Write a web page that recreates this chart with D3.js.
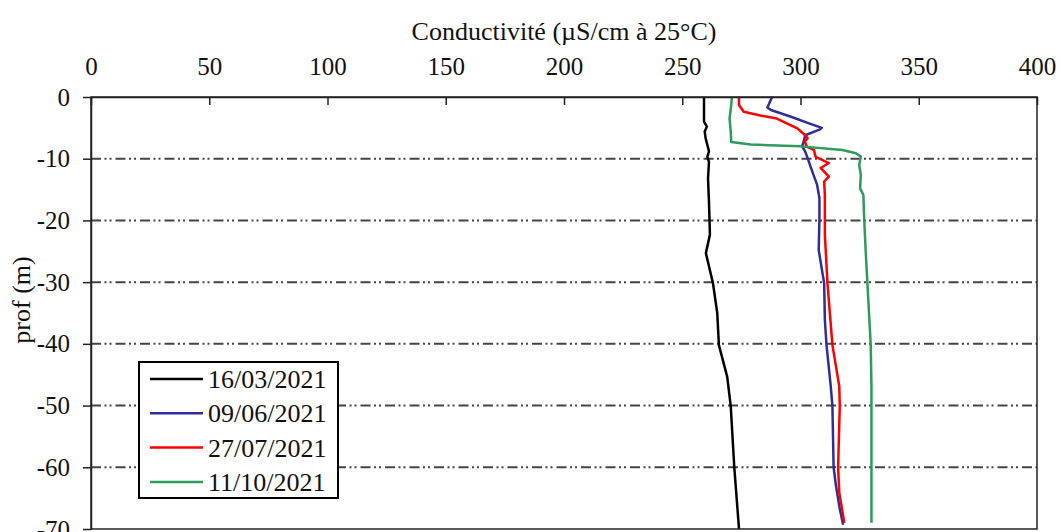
<!DOCTYPE html>
<html>
<head>
<meta charset="utf-8">
<script src="https://cdn.jsdelivr.net/npm/d3@7"></script>
<style>
  html, body { margin: 0; padding: 0; background: #fff; }
  svg { display: block; }
  text { font-family: "Liberation Serif", "Times New Roman", serif; fill: #111; }
</style>
</head>
<body>
<svg id="chart" width="1061" height="532"></svg>
<script>
// Conductivity profiles (µS/cm at 25°C) versus depth (m)
const xTicks = [0, 50, 100, 150, 200, 250, 300, 350, 400];
const yTicks = [0, -10, -20, -30, -40, -50, -60, -70];
const gridDepths = [-10, -20, -30, -40, -50, -60];

const dates = ["16/03/2021", "09/06/2021", "27/07/2021", "11/10/2021"];
const colors = ["#000000", "#2e2e9a", "#ff0000", "#2e9a5c"];

const depth1 = [0, -4, -4.8, -5.6, -6.7, -8.8, -9.7, -10.5, -13.2, -17, -22.3, -25.3, -30.2, -35, -40.2, -45.3, -50.1, -60, -70];
const cond1  = [259.2, 259.2, 260.4, 259.5, 259.9, 261.3, 260.6, 261.3, 260.9, 261.3, 261.7, 260, 263, 264.8, 265.5, 269, 270.5, 272, 274];

const depth2 = [0, -1.7, -2.1, -3.2, -4.2, -5, -5.3, -6.2, -7, -8, -8.85, -9.9, -12.1, -14.2, -16.4, -19.9, -24.8, -30.2, -36.1, -40.2, -46.9, -50.1, -60, -63, -66.3, -69.3];
const cond2  = [288, 286, 287.5, 296, 303, 309, 308, 302, 301.5, 300.7, 302, 303, 305, 307, 308, 308, 307.7, 310, 310.3, 311, 312.8, 313.5, 314, 315, 316.4, 318];

const depth3 = [0, -1.3, -2.4, -3, -3.5, -4.3, -5.1, -6.2, -6.7, -7.2, -8, -8.6, -9.7, -10.7, -11.5, -12.9, -13.7, -15.9, -22.3, -30.2, -40.2, -46.9, -50.1, -60, -64.1, -69];
const cond3  = [274, 274, 276, 283, 290, 294.4, 298.7, 302, 303, 301.8, 302.6, 305.7, 306.4, 312, 308.5, 312, 310, 310.3, 310.3, 311.4, 313.5, 316.4, 316.6, 315.9, 316.4, 318.5];

const depth4 = [0, -1.3, -3.5, -5.6, -7.3, -7.7, -8, -8.6, -9.1, -9.65, -11, -12.6, -14.8, -15.9, -19.6, -25.3, -30.2, -40.2, -46.9, -60, -69];
const cond4  = [271, 270.7, 270, 270.5, 270.7, 279, 300, 317.7, 323.4, 325.5, 324.8, 325.5, 325.2, 326.6, 326.9, 327.6, 328.3, 329.7, 330, 330, 330];

const depths = [depth1, depth2, depth3, depth4];
const conds = [cond1, cond2, cond3, cond4];

const svg = d3.select("#chart");
const plotLeft = 91, plotRight = 1037, plotTop = 97, plotBottom = 529;

const x = d3.scaleLinear().domain([0, 400]).range([plotLeft, plotRight]);
const y = d3.scaleLinear().domain([0, -70]).range([plotTop, plotBottom]);

// dash-dot-dot horizontal gridlines
svg.append("g")
  .selectAll("line")
  .data(gridDepths)
  .join("line")
  .attr("x1", plotLeft).attr("x2", plotRight)
  .attr("y1", d => y(d)).attr("y2", d => y(d))
  .attr("stroke", "#444")
  .attr("stroke-width", 2)
  .attr("stroke-dasharray", "10,3.5,2,3,2,4");

// profiles
const line = d3.line().x(d => x(d[0])).y(d => y(d[1]));
svg.append("g")
  .selectAll("path")
  .data(conds.map((c, i) => c.map((v, j) => [v, depths[i][j]])))
  .join("path")
  .attr("d", line)
  .attr("fill", "none")
  .attr("stroke", (d, i) => colors[i])
  .attr("stroke-width", 2.5)
  .attr("stroke-linejoin", "round");

// frame
svg.append("rect")
  .attr("x", plotLeft).attr("y", plotTop)
  .attr("width", plotRight - plotLeft).attr("height", plotBottom - plotTop)
  .attr("fill", "none")
  .attr("stroke", "#222")
  .attr("stroke-width", 1.5);

// top axis (ticks pointing inward)
const xAxis = d3.axisTop(x).tickValues(xTicks).tickSizeInner(-8).tickSizeOuter(0).tickPadding(22);
const gx = svg.append("g").attr("transform", `translate(0,${plotTop})`).call(xAxis);
gx.select(".domain").attr("stroke", "#222").attr("stroke-width", 1.5);
gx.selectAll(".tick line").attr("stroke", "#222").attr("stroke-width", 1.5);
gx.selectAll(".tick text").attr("font-size", 25).attr("font-family", "Liberation Serif").attr("fill", "#111");

// left axis (ticks pointing outward)
const yAxis = d3.axisLeft(y).tickValues(yTicks).tickSizeInner(8).tickSizeOuter(0).tickPadding(13);
const gy = svg.append("g").attr("transform", `translate(${plotLeft},0)`).call(yAxis);
gy.select(".domain").attr("stroke", "#222").attr("stroke-width", 1.5);
gy.selectAll(".tick line").attr("stroke", "#222").attr("stroke-width", 1.5);
gy.selectAll(".tick text").attr("font-size", 25).attr("font-family", "Liberation Serif").attr("fill", "#111")
  .text(d => d3.format("d")(d).replace("−", "-"));

// axis titles
svg.append("text")
  .attr("x", 564).attr("y", 40)
  .attr("text-anchor", "middle")
  .attr("font-size", 26)
  .text("Conductivité (µS/cm à 25°C)");

svg.append("text")
  .attr("transform", "translate(30,300) rotate(-90)")
  .attr("text-anchor", "middle")
  .attr("font-size", 26)
  .text("prof (m)");

// legend
const lg = svg.append("g");
lg.append("rect")
  .attr("x", 139).attr("y", 362)
  .attr("width", 199).attr("height", 136)
  .attr("fill", "#fff")
  .attr("stroke", "#000")
  .attr("stroke-width", 2);
const rows = lg.selectAll("g.row")
  .data(dates)
  .join("g")
  .attr("class", "row")
  .attr("transform", (d, i) => `translate(0,${379 + i * 34.3})`);
rows.append("line")
  .attr("x1", 150).attr("x2", 203)
  .attr("stroke", (d, i) => colors[i])
  .attr("stroke-width", 2.5);
rows.append("text")
  .attr("x", 208).attr("y", 9)
  .attr("font-size", 26)
  .text(d => d);
</script>
</body>
</html>
